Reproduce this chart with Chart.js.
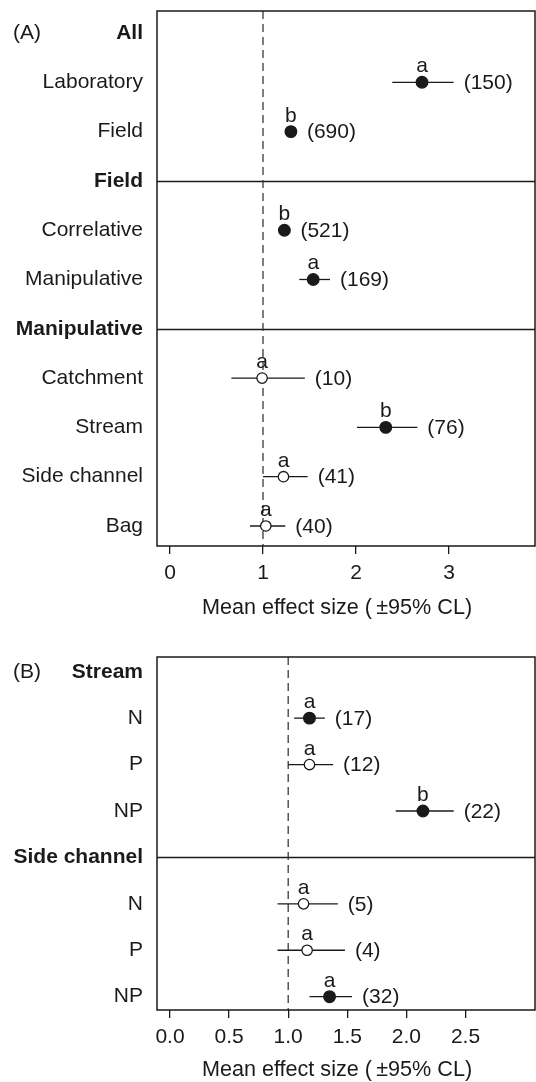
<!DOCTYPE html>
<html>
<head>
<meta charset="utf-8">
<script src="https://cdn.jsdelivr.net/npm/chart.js"></script>
<style>
  body { margin: 0; background: #fff; }
  .panel { position: absolute; left: 0; width: 536px; }
</style>
</head>
<body>
<div class="panel" style="top:0; height:620px;"><canvas id="panelA" width="536" height="620"></canvas></div>
<div class="panel" style="top:620px; height:462px;"><canvas id="panelB" width="536" height="462"></canvas></div>
<script>
// panel A rows (null = group header row)
const rowsA = ['All', 'Laboratory', 'Field', 'Field', 'Correlative', 'Manipulative', 'Manipulative', 'Catchment', 'Stream', 'Side channel', 'Bag'];
const headerA = [true, false, false, true, false, false, true, false, false, false, false];
const meanA = [null, 2.71, 1.30, null, 1.23, 1.54, null, 0.99, 2.32, 1.22, 1.03];
const lowA = [null, 2.39, 1.27, null, 1.19, 1.39, null, 0.66, 2.01, 1.00, 0.86];
const highA = [null, 3.05, 1.33, null, 1.27, 1.72, null, 1.45, 2.66, 1.48, 1.24];
const nA = [null, 150, 690, null, 521, 169, null, 10, 76, 41, 40];
const letterA = [null, 'a', 'b', null, 'b', 'a', null, 'a', 'b', 'a', 'a'];
const filledA = [null, true, true, null, true, true, null, false, true, false, false];
const ticksA = [0, 1, 2, 3];

// panel B rows
const rowsB = ['Stream', 'N', 'P', 'NP', 'Side channel', 'N', 'P', 'NP'];
const headerB = [true, false, false, false, true, false, false, false];
const meanB = [null, 1.18, 1.18, 2.14, null, 1.13, 1.16, 1.35];
const lowB = [null, 1.05, 1.00, 1.91, null, 0.91, 0.91, 1.18];
const highB = [null, 1.31, 1.38, 2.40, null, 1.42, 1.48, 1.54];
const nB = [null, 17, 12, 22, null, 5, 4, 32];
const letterB = [null, 'a', 'a', 'b', null, 'a', 'a', 'a'];
const filledB = [null, true, false, true, null, false, false, true];
const ticksB = [0, 0.5, 1.0, 1.5, 2.0, 2.5];

const xTitle = 'Mean effect size (\u2009\u00b195% CL)';
const FONT = '"Liberation Sans", Arial, Helvetica, sans-serif';
const INK = '#1a1a1a';

function makePanel(id, p) {
  var filled = [], open = [];
  p.mean.forEach(function (m, i) {
    if (m === null) return;
    (p.filled[i] ? filled : open).push({ x: m, y: i });
  });

  var forestPlugin = {
    id: 'forest',
    beforeDatasetsDraw: function (chart) {
      var ctx = chart.ctx, a = chart.chartArea;
      var xs = chart.scales.x, ys = chart.scales.y;
      ctx.save();
      // separators at group headers
      ctx.strokeStyle = INK;
      ctx.lineWidth = 1.3;
      p.header.forEach(function (h, i) {
        if (!h || i === 0) return;
        var y = Math.round(ys.getPixelForValue(i)) + 0.5;
        ctx.beginPath(); ctx.moveTo(a.left, y); ctx.lineTo(a.right, y); ctx.stroke();
      });
      // dashed reference line at 1
      var x1 = xs.getPixelForValue(1);
      ctx.strokeStyle = '#3a3a3a';
      ctx.setLineDash([8, 5]);
      ctx.beginPath(); ctx.moveTo(x1, a.top); ctx.lineTo(x1, a.bottom); ctx.stroke();
      ctx.setLineDash([]);
      // confidence limits
      ctx.strokeStyle = INK;
      ctx.lineWidth = 1.3;
      p.mean.forEach(function (m, i) {
        if (m === null) return;
        var y = ys.getPixelForValue(i);
        ctx.beginPath();
        ctx.moveTo(xs.getPixelForValue(p.low[i]), y);
        ctx.lineTo(xs.getPixelForValue(p.high[i]), y);
        ctx.stroke();
      });
      ctx.restore();
    },
    afterDraw: function (chart) {
      var ctx = chart.ctx, a = chart.chartArea;
      var xs = chart.scales.x, ys = chart.scales.y;
      ctx.save();
      ctx.strokeStyle = INK;
      ctx.lineWidth = 1.5;
      ctx.strokeRect(a.left, a.top, a.right - a.left, a.bottom - a.top);
      ctx.fillStyle = INK;
      ctx.font = '21px ' + FONT;
      p.mean.forEach(function (m, i) {
        if (m === null) return;
        var y = ys.getPixelForValue(i);
        var xm = xs.getPixelForValue(m);
        ctx.textAlign = 'center';
        ctx.textBaseline = 'alphabetic';
        ctx.fillText(p.letter[i], xm, y - 10);
        ctx.textAlign = 'left';
        ctx.textBaseline = 'middle';
        var xe = Math.max(xs.getPixelForValue(p.high[i]), xm + 6) + 10;
        ctx.fillText('(' + p.n[i] + ')', xe, y + 1);
      });
      ctx.textAlign = 'left';
      ctx.textBaseline = 'middle';
      ctx.fillText(p.tag, 13, ys.getPixelForValue(0));
      // axis title
      ctx.textAlign = 'center';
      ctx.font = '21.6px ' + FONT;
      ctx.fillText(xTitle, 337, chart.height - p.titleOff);
      ctx.restore();
    }
  };

  return new Chart(id, {
    type: 'scatter',
    data: {
      datasets: [{
        data: filled,
        pointRadius: 5.8,
        pointBackgroundColor: INK,
        pointBorderColor: INK,
        pointBorderWidth: 1.3
      }, {
        data: open,
        pointRadius: 5.2,
        pointBackgroundColor: '#fff',
        pointBorderColor: INK,
        pointBorderWidth: 1.3
      }]
    },
    plugins: [forestPlugin],
    options: {
      responsive: false,
      animation: false,
      layout: { autoPadding: false, padding: { top: p.top, right: 1, left: 0, bottom: 0 } },
      plugins: { legend: { display: false }, tooltip: { enabled: false } },
      scales: {
        x: {
          type: 'linear',
          min: p.xmin,
          max: p.xmax,
          afterBuildTicks: function (scale) {
            scale.ticks = p.xticks.map(function (v) { return { value: v }; });
          },
          afterFit: function (scale) {
            scale.height = p.xh;
            scale.paddingLeft = 0;
            scale.paddingRight = 0;
          },
          border: { display: false },
          grid: { drawOnChartArea: false, drawTicks: true, tickLength: 8, color: INK, lineWidth: 1.3 },
          ticks: {
            color: INK,
            padding: 7,
            maxRotation: 0,
            font: { family: FONT, size: 21 },
            callback: function (v) { return p.fmt(v); }
          }
        },
        y: {
          type: 'linear',
          reverse: true,
          min: p.ymin,
          max: p.ymax,
          afterBuildTicks: function (scale) {
            scale.ticks = p.rows.map(function (r, i) { return { value: i }; });
          },
          afterFit: function (scale) {
            scale.width = 157;
            scale.paddingTop = 0;
            scale.paddingBottom = 0;
          },
          border: { display: false },
          grid: { display: false, drawTicks: false },
          ticks: {
            color: INK,
            padding: 14,
            font: function (c) {
              var i = Math.round(c.tick ? c.tick.value : 0);
              return { family: FONT, size: 21, weight: p.header[i] ? 'bold' : 'normal' };
            },
            callback: function (v) { return p.rows[Math.round(v)]; }
          }
        }
      }
    }
  });
}

makePanel('panelA', {
  rows: rowsA, header: headerA, mean: meanA, low: lowA, high: highA,
  n: nA, letter: letterA, filled: filledA, xticks: ticksA, tag: '(A)',
  fmt: function (v) { return String(v); },
  xmin: -0.14, xmax: 3.925, ymin: -0.446, ymax: 10.406, top: 11, xh: 74, titleOff: 12
});

makePanel('panelB', {
  rows: rowsB, header: headerB, mean: meanB, low: lowB, high: highB,
  n: nB, letter: letterB, filled: filledB, xticks: ticksB, tag: '(B)',
  fmt: function (v) { return v.toFixed(1); },
  xmin: -0.11, xmax: 3.088, ymin: -0.317, ymax: 7.287, top: 37, xh: 72, titleOff: 12
});
</script>
</body>
</html>
